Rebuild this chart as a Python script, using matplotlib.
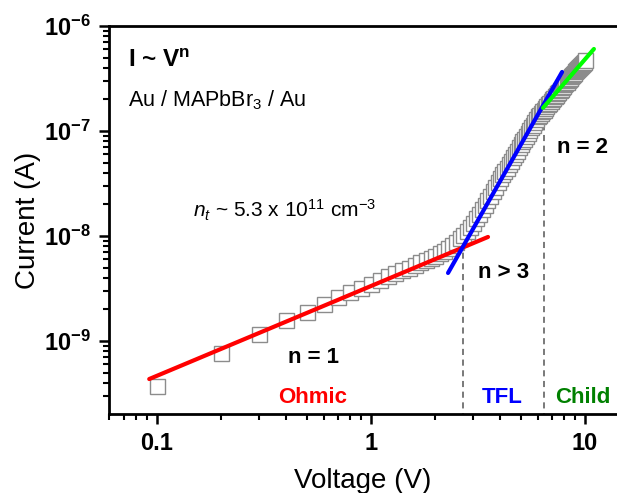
import numpy as np
import matplotlib
matplotlib.use("Agg")
import matplotlib.pyplot as plt
from matplotlib.ticker import LogLocator, FixedLocator, FuncFormatter, NullFormatter

plt.rcParams['font.family'] = ['Liberation Sans', 'DejaVu Sans']
plt.rcParams['mathtext.fontset'] = 'custom'
plt.rcParams['mathtext.rm'] = 'Liberation Sans'
plt.rcParams['mathtext.it'] = 'Liberation Sans:italic'
plt.rcParams['mathtext.bf'] = 'Liberation Sans:bold'

# I-V data
voltage = [round(0.1 * k, 1) for k in range(1, 101)]
current = [
    3.7e-10, 7.7e-10, 1.17e-9, 1.58e-9, 1.88e-9, 2.25e-9, 2.6e-9, 2.93e-9, 3.22e-9, 3.5e-9,
    3.81e-9, 4.12e-9, 4.42e-9, 4.71e-9, 5.0e-9, 5.3e-9, 5.6e-9, 5.9e-9, 6.2e-9, 6.5e-9,
    6.85e-9, 7.25e-9, 7.7e-9, 8.2e-9, 8.8e-9, 9.5e-9, 1.03e-8, 1.12e-8, 1.22e-8, 1.33e-8,
    1.47e-8, 1.63e-8, 1.80e-8, 1.99e-8, 2.2e-8, 2.43e-8, 2.68e-8, 2.95e-8, 3.26e-8, 3.6e-8,
    3.88e-8, 4.17e-8, 4.49e-8, 4.84e-8, 5.2e-8, 5.6e-8, 6.03e-8, 6.5e-8, 6.98e-8, 7.5e-8,
    7.97e-8, 8.48e-8, 9.0e-8, 9.58e-8, 1.02e-7, 1.08e-7, 1.15e-7, 1.22e-7, 1.3e-7, 1.38e-7,
    1.43e-7, 1.49e-7, 1.54e-7, 1.6e-7, 1.66e-7, 1.72e-7, 1.79e-7, 1.86e-7, 1.93e-7, 2.0e-7,
    2.07e-7, 2.14e-7, 2.21e-7, 2.29e-7, 2.36e-7, 2.44e-7, 2.53e-7, 2.61e-7, 2.7e-7, 2.8e-7,
    2.88e-7, 2.96e-7, 3.04e-7, 3.13e-7, 3.22e-7, 3.31e-7, 3.4e-7, 3.5e-7, 3.6e-7, 3.7e-7,
    3.79e-7, 3.88e-7, 3.97e-7, 4.07e-7, 4.17e-7, 4.27e-7, 4.37e-7, 4.48e-7, 4.59e-7, 4.7e-7,
]

# fitted power-law segments (end points)
ohmic_v = [0.092, 3.52]
ohmic_i = [4.35e-10, 9.8e-9]
tfl_v = [2.29, 7.81]
tfl_i = [4.45e-9, 3.65e-7]
child_v = [6.36, 11.0]
child_i = [1.66e-7, 6.04e-7]

# boundaries between regimes
v_tfl = 2.69
v_child = 6.43
bound_top = [8.2e-9, 1.48e-7]

x_ticks = [0.1, 1, 10]
x_ticklabels = ['0.1', '1', '10']
y_ticks = [1e-9, 1e-8, 1e-7, 1e-6]

fig = plt.figure(figsize=(6.17, 4.93), dpi=100)
ax = fig.add_axes([0.1767, 0.1602, 0.8233, 0.7871])

ax.plot(voltage, current, 's', ms=10.8, mfc='white', mec='#8c8c8c', mew=1.0, zorder=2)
ax.plot(ohmic_v, ohmic_i, color='#ff0000', lw=3, solid_capstyle='round', zorder=3)
ax.plot(tfl_v, tfl_i, color='#0000ff', lw=3, solid_capstyle='round', zorder=3)
ax.plot(child_v, child_i, color='#00ff00', lw=3, solid_capstyle='round', zorder=3)

ax.plot([v_tfl, v_tfl], [1e-12, bound_top[0]], color='#555555', lw=1.1, ls=(0, (4, 3)), zorder=1)
ax.plot([v_child, v_child], [1e-12, bound_top[1]], color='#555555', lw=1.1, ls=(0, (4, 3)), zorder=1)

ax.set_xscale('log')
ax.set_yscale('log')
ax.set_xlim(0.0597, 14.1)
ax.set_ylim(2.02e-10, 1e-6)

ax.set_xticks(x_ticks)
ax.set_xticklabels(x_ticklabels, fontweight='bold')
ax.xaxis.set_minor_locator(LogLocator(base=10, subs=np.arange(2, 10), numticks=20))
ax.xaxis.set_minor_formatter(NullFormatter())

ax.yaxis.set_major_locator(FixedLocator(y_ticks))
ax.yaxis.set_major_formatter(FuncFormatter(lambda v, p: r'$\mathbf{10^{%d}}$' % round(np.log10(v))))
ax.yaxis.set_minor_locator(LogLocator(base=10, subs=np.arange(2, 10), numticks=20))
ax.yaxis.set_minor_formatter(NullFormatter())

ax.tick_params(which='major', direction='out', length=7, width=1.8, labelsize=17, pad=6)
ax.tick_params(which='minor', direction='out', length=4, width=1.5)
ax.tick_params(top=False, right=False)

for s in ['left', 'bottom', 'top']:
    ax.spines[s].set_linewidth(2)
ax.spines['right'].set_visible(False)

ax.set_xlabel('Voltage (V)', fontsize=20, labelpad=9)
ax.set_ylabel('Current (A)', fontsize=20, labelpad=2)

ax.text(0.0732, 4.74e-7, r'I ~ V$^{\mathbf{n}}$', fontsize=17.5, fontweight='bold', va='center', ha='left')
ax.text(0.0732, 1.97e-7, r'Au / MAPbBr$_3$ / Au', fontsize=15.5, va='center', ha='left')
ax.text(0.147, 1.77e-8, r'$n_t$ ~ 5.3 x 10$^{11}$ cm$^{-3}$', fontsize=15, va='center', ha='left')
ax.text(7.4, 7.0e-8, 'n = 2', fontsize=16, fontweight='bold', va='center', ha='left')
ax.text(3.16, 4.54e-9, 'n > 3', fontsize=16, fontweight='bold', va='center', ha='left')
ax.text(0.536, 6.9e-10, 'n = 1', fontsize=16, fontweight='bold', va='center', ha='center')
ax.text(0.536, 2.93e-10, 'Ohmic', fontsize=16, fontweight='bold', color='#ff0000', va='center', ha='center')
ax.text(4.1, 2.93e-10, 'TFL', fontsize=16, fontweight='bold', color='#0000ff', va='center', ha='center')
ax.text(9.8, 2.93e-10, 'Child', fontsize=16, fontweight='bold', color='#008000', va='center', ha='center')

fig.savefig('out.png', dpi=100)
